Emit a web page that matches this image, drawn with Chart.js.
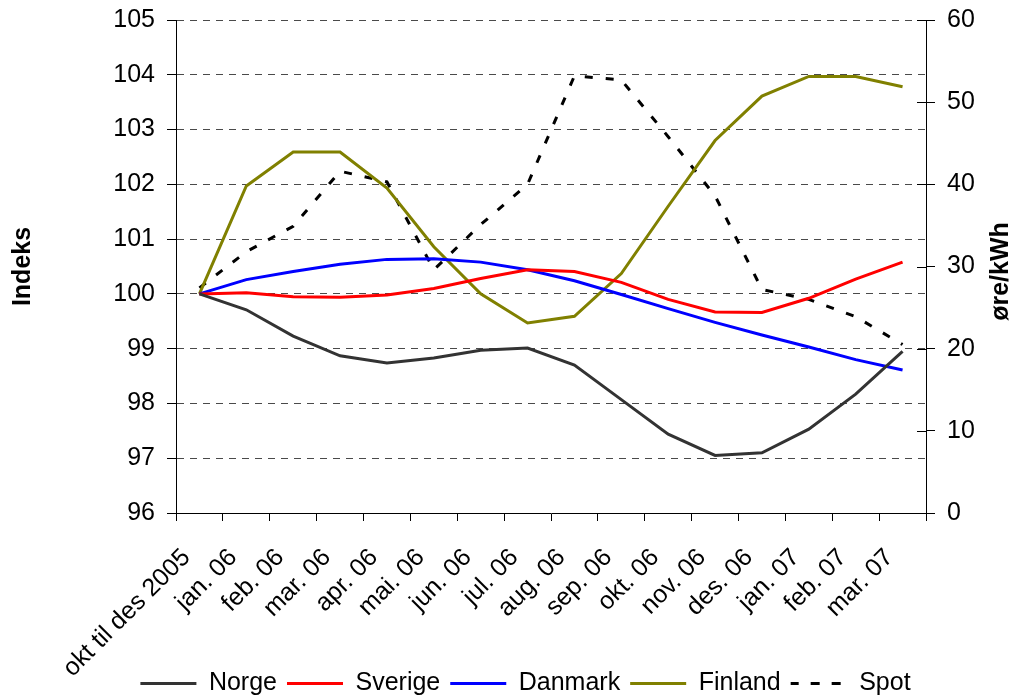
<!DOCTYPE html>
<html>
<head>
<meta charset="utf-8">
<script src="https://cdn.jsdelivr.net/npm/chart.js@4/dist/chart.umd.min.js"></script>
<style>
  html, body { margin: 0; padding: 0; background: #fff; }
  #wrap { width: 1012px; height: 696px; }
</style>
</head>
<body>
<div id="wrap"><canvas id="c" width="1012" height="696"></canvas></div>
<script>
const categories = ["okt til des 2005","jan. 06","feb. 06","mar. 06","apr. 06","mai. 06","jun. 06","jul. 06","aug. 06","sep. 06","okt. 06","nov. 06","des. 06","jan. 07","feb. 07","mar. 07"];
const norge   = [100, 99.71, 99.23, 98.87, 98.74, 98.83, 98.97, 99.01, 98.70, 98.07, 97.44, 97.05, 97.10, 97.53, 98.17, 98.95];
const sverige = [100, 100.02, 99.95, 99.94, 99.98, 100.10, 100.28, 100.44, 100.41, 100.21, 99.90, 99.67, 99.66, 99.92, 100.27, 100.58];
const danmark = [100, 100.26, 100.41, 100.54, 100.63, 100.64, 100.58, 100.44, 100.24, 99.99, 99.73, 99.48, 99.25, 99.03, 98.80, 98.61];
const finland = [100, 101.97, 102.59, 102.59, 101.93, 100.86, 100.0, 99.47, 99.59, 100.37, 101.6, 102.80, 103.61, 103.97, 103.97, 103.78];
const spot    = [27.4, 31.8, 34.9, 41.6, 40.3, 29.6, 35.1, 40.0, 53.2, 52.7, 45.8, 38.6, 27.2, 26.0, 23.9, 20.5];
const leftTicks = { min: 96, max: 105, step: 1 };
const rightTicks = { min: 0, max: 60, step: 10 };

const FONT = 25;
Chart.defaults.font.family = '"Liberation Sans", Arial, sans-serif';
Chart.defaults.font.size = FONT;
Chart.defaults.color = '#000';

const extras = {
  id: 'extras',
  afterLayout(chart) {
    const lg = chart.legend;
    if (lg) { lg.left += 39; }
    // let rotated category labels run below the axis box (as in the original)
    chart.scales.x.bottom = chart.height;
  },
  afterDraw(chart) {
    const ctx = chart.ctx;
    const s = chart.scales.y1;
    ctx.save();
    ctx.strokeStyle = '#000';
    ctx.lineWidth = 1;
    s.ticks.forEach((t, i) => {
      const y = Math.round(s.getPixelForTick(i)) + 0.5;
      ctx.beginPath();
      ctx.moveTo(s.left - 9, y);
      ctx.lineTo(s.left, y);
      ctx.stroke();
    });
    const ca = chart.chartArea;
    ctx.translate(1001, (ca.top + ca.bottom) / 2 + 5);
    ctx.rotate(-Math.PI / 2);
    ctx.font = 'bold ' + FONT + 'px "Liberation Sans", Arial, sans-serif';
    ctx.textAlign = 'center';
    ctx.textBaseline = 'middle';
    ctx.fillStyle = '#000';
    ctx.fillText('øre/kWh', 0, 0);
    ctx.restore();
  }
};

function lineDs(label, data, color, axis, dash) {
  return {
    label, data, yAxisID: axis,
    borderColor: color, backgroundColor: color,
    borderWidth: 3, borderDash: dash || [],
    pointRadius: 0, pointHoverRadius: 0, tension: 0, fill: false
  };
}

new Chart(document.getElementById('c'), {
  type: 'line',
  data: {
    labels: categories,
    datasets: [
      lineDs('Norge', norge, '#333333', 'y'),
      lineDs('Sverige', sverige, '#ff0000', 'y'),
      lineDs('Danmark', danmark, '#0000ff', 'y'),
      lineDs('Finland', finland, '#808000', 'y'),
      lineDs('Spot', spot, '#000000', 'y1', [8, 13])
    ]
  },
  options: {
    responsive: false,
    animation: false,
    layout: { padding: { top: 20, left: 0, right: 0, bottom: 0 } },
    plugins: {
      tooltip: { enabled: false },
      legend: {
        position: 'bottom',
        maxHeight: 35,
        labels: {
          boxWidth: 56, boxHeight: 0, padding: 10,
          font: { size: FONT }, color: '#000'
        }
      }
    },
    scales: {
      x: {
        type: 'category',
        offset: true,
        grid: { offset: true, drawOnChartArea: false, tickLength: 8, tickColor: '#000', color: '#000' },
        border: { color: '#000', width: 1 },
        ticks: { minRotation: 45, maxRotation: 45, autoSkip: false, padding: 22, labelOffset: -13, font: { size: FONT }, color: '#000' },
        afterFit(s) { s.height = 148; }
      },
      y: {
        position: 'left',
        min: leftTicks.min, max: leftTicks.max,
        ticks: { stepSize: leftTicks.step, padding: 12, font: { size: FONT }, color: '#000' },
        grid: { color: '#4a4a4a', lineWidth: 1, tickLength: 9, tickColor: '#000', tickBorderDash: [] },
        border: { color: '#000', width: 1, dash: [7, 6] },
        title: { display: true, text: 'Indeks', font: { size: FONT, weight: 'bold', lineHeight: 1 }, padding: { top: 11, bottom: 0 }, color: '#000' },
        afterFit(s) { s.width = 176; s.paddingTop = 0; s.paddingBottom = 0; }
      },
      y1: {
        position: 'right',
        min: rightTicks.min, max: rightTicks.max,
        ticks: { stepSize: rightTicks.step, padding: 12, font: { size: FONT }, color: '#000' },
        grid: { drawOnChartArea: false, tickLength: 9, tickColor: '#000' },
        border: { color: '#000', width: 1 },
        afterFit(s) { s.width = 86; s.paddingTop = 0; s.paddingBottom = 0; }
      }
    }
  },
  plugins: [extras]
});
</script>
</body>
</html>
